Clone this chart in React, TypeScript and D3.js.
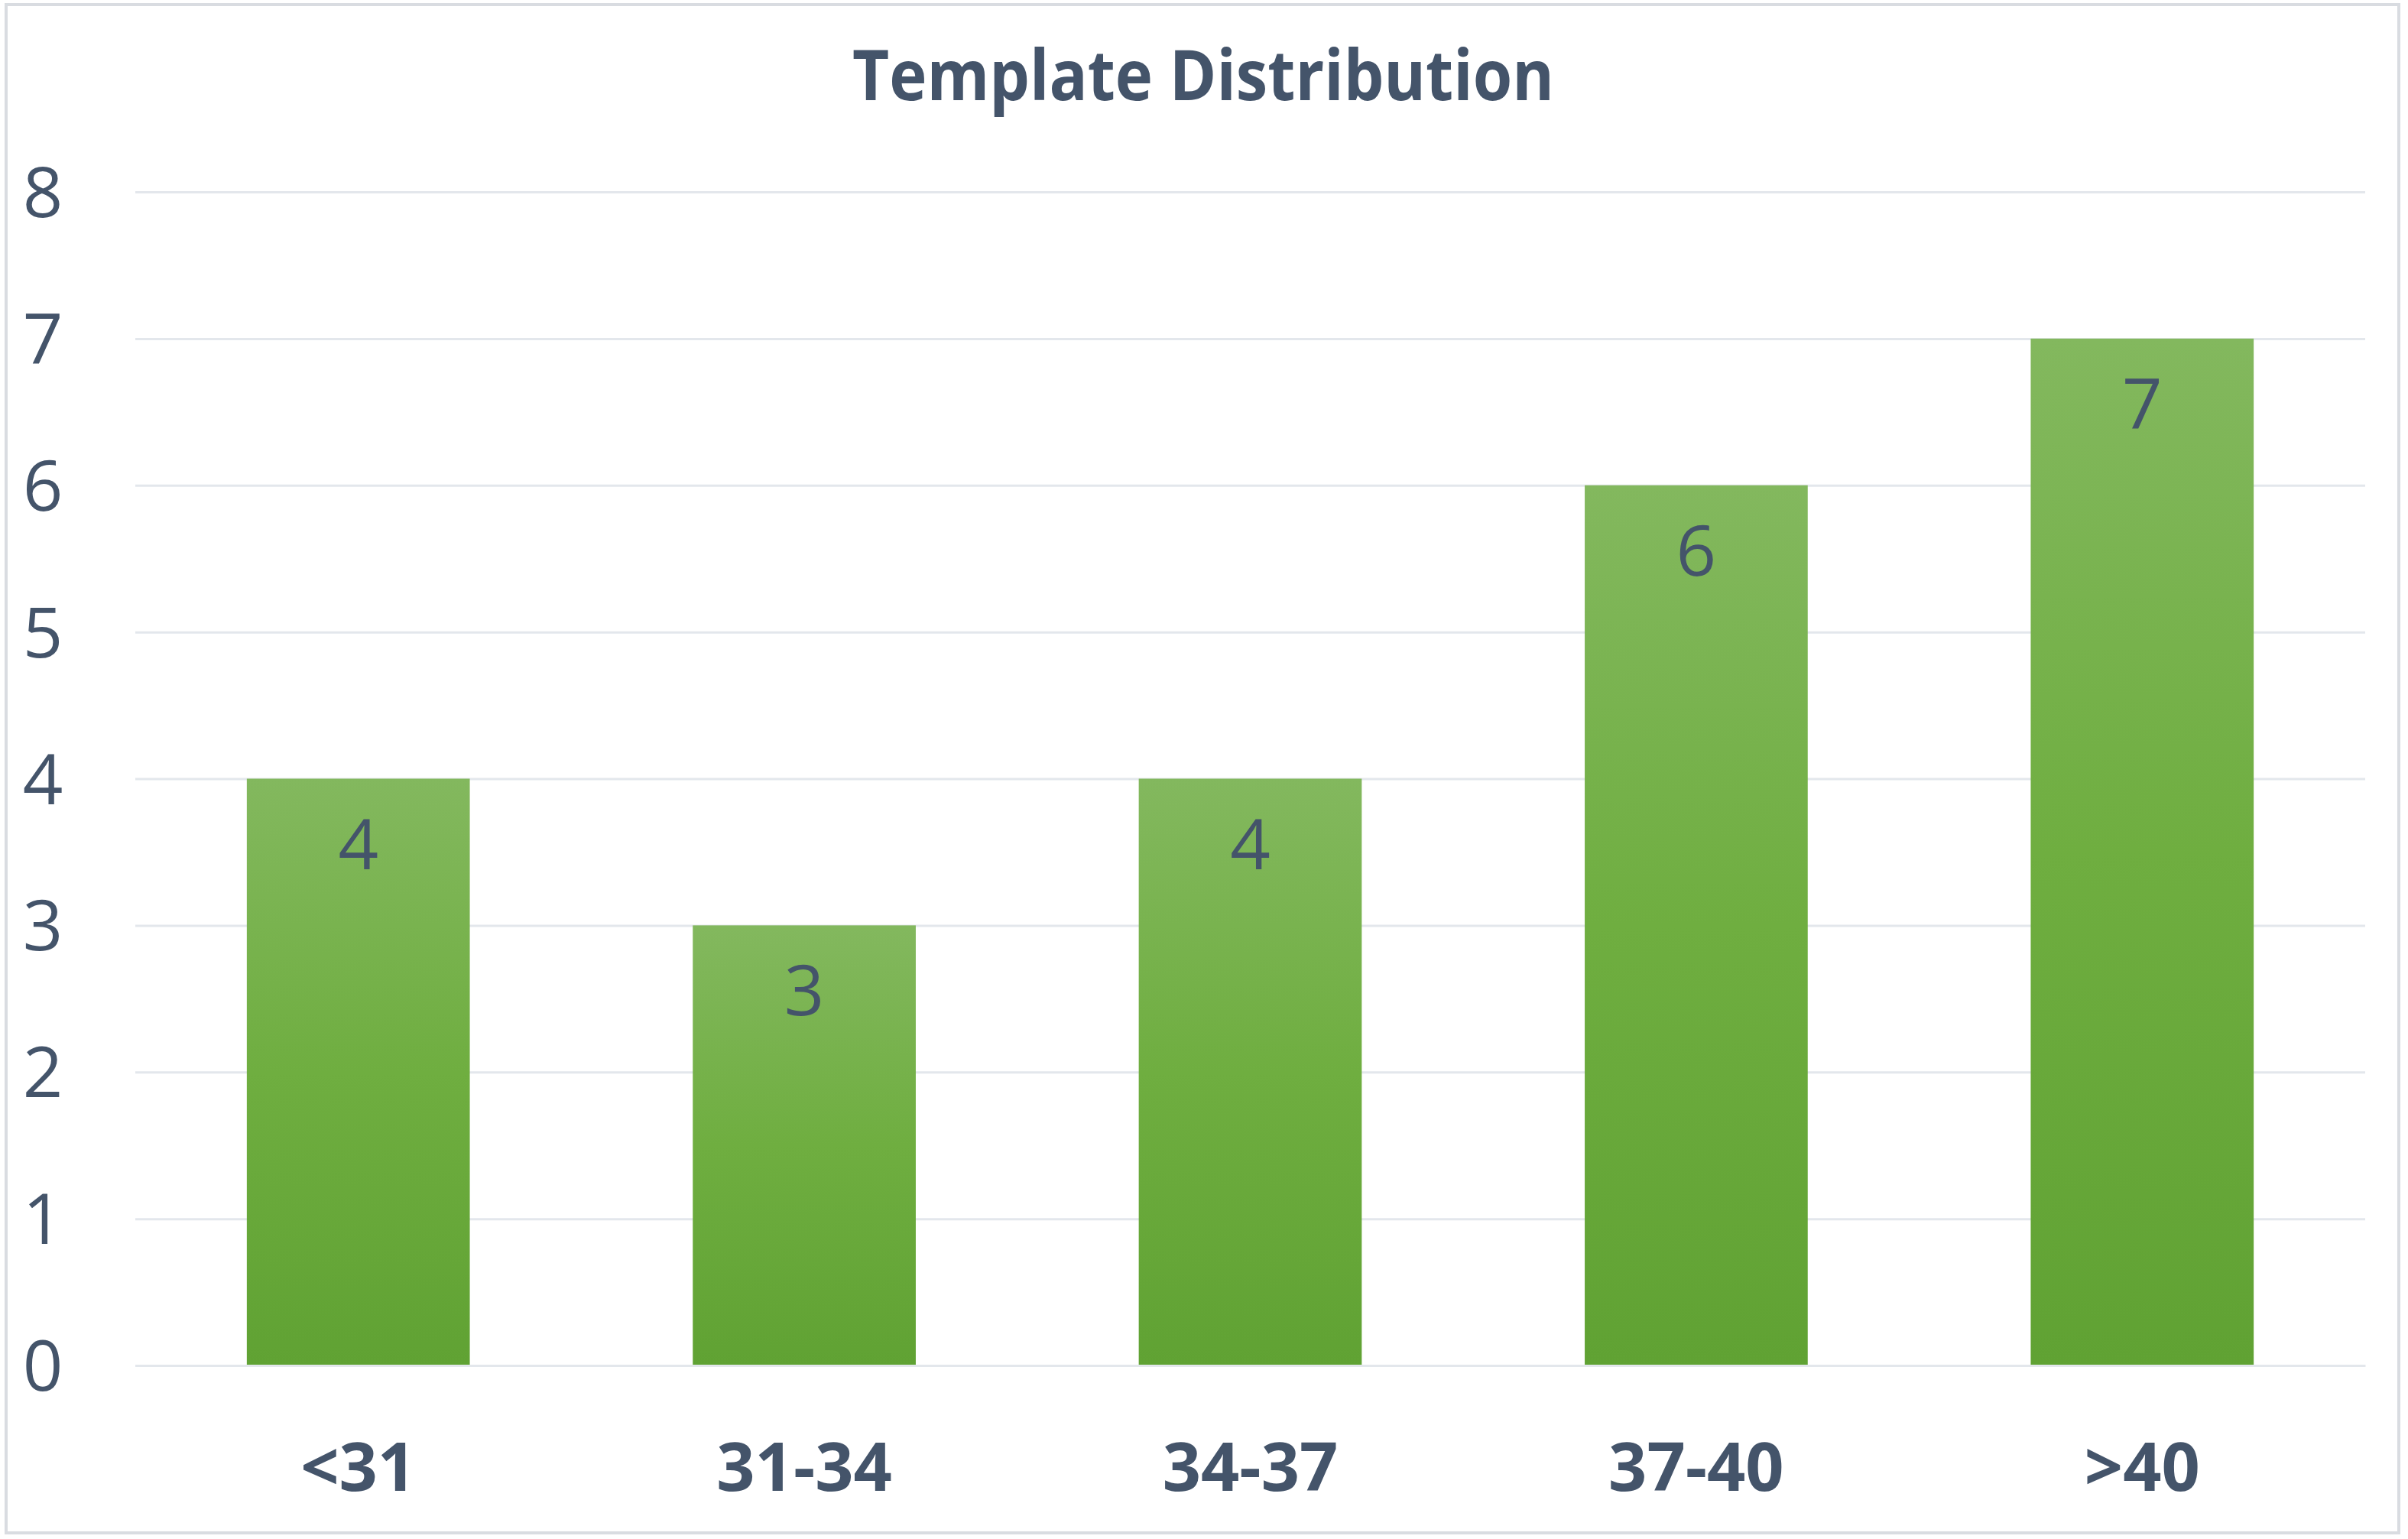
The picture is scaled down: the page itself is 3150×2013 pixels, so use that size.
import { useEffect, useRef } from "react";
import * as d3 from "d3";

const categories = ["<31", "31-34", "34-37", "37-40", ">40"];
const counts = [4, 3, 4, 6, 7];
const yTicks = [0, 1, 2, 3, 4, 5, 6, 7, 8];
const title = "Template Distribution";

const W = 3150;
const H = 2013;
const TEXT = "#44546a";

export default function App() {
  const ref = useRef<SVGSVGElement>(null);

  useEffect(() => {
    if (!ref.current) return;
    const root = d3.select(ref.current);
    root.selectAll("*").remove();

    const margin = { top: 251, right: 56, bottom: 227, left: 177 };
    const innerWidth = W - margin.left - margin.right;
    const innerHeight = H - margin.top - margin.bottom;

    const defs = root.append("defs");
    const grad = defs
      .append("linearGradient")
      .attr("id", "barFill")
      .attr("x1", 0)
      .attr("y1", 0)
      .attr("x2", 0)
      .attr("y2", 1);
    grad.append("stop").attr("offset", "0%").attr("stop-color", "#83b85e");
    grad.append("stop").attr("offset", "50%").attr("stop-color", "#6fae40");
    grad.append("stop").attr("offset", "100%").attr("stop-color", "#60a233");

    // chart frame
    root
      .append("rect")
      .attr("x", 8)
      .attr("y", 6)
      .attr("width", 3130)
      .attr("height", 1999)
      .attr("fill", "#ffffff")
      .attr("stroke", "#d9dce1")
      .attr("stroke-width", 4);

    root
      .append("text")
      .attr("x", 1574)
      .attr("y", 131)
      .attr("text-anchor", "middle")
      .attr("fill", TEXT)
      .attr("font-family", "'Open Sans', sans-serif")
      .attr("font-weight", 700)
      .attr("font-size", 92)
      .attr("textLength", 918)
      .attr("lengthAdjust", "spacingAndGlyphs")
      .text(title);

    const svg = root
      .append("g")
      .attr("transform", `translate(${margin.left},${margin.top})`);

    const x = d3
      .scaleBand()
      .domain(categories)
      .range([0, innerWidth])
      .paddingInner(0.5)
      .paddingOuter(0.25);

    const y = d3.scaleLinear().domain([0, 8]).range([innerHeight, 0]);

    // gridlines
    svg
      .append("g")
      .call(
        d3
          .axisLeft(y)
          .tickValues(yTicks)
          .tickSize(-innerWidth)
          .tickFormat(() => "")
      )
      .call((g) => g.select(".domain").remove())
      .call((g) =>
        g.selectAll("line").attr("stroke", "#e3e7ec").attr("stroke-width", 3)
      );

    // y labels
    svg
      .append("g")
      .selectAll("text")
      .data(yTicks)
      .enter()
      .append("text")
      .attr("x", 56 - margin.left)
      .attr("y", (d) => y(d))
      .attr("dy", "0.36em")
      .attr("text-anchor", "middle")
      .attr("fill", TEXT)
      .attr("font-family", "'Open Sans', sans-serif")
      .attr("font-size", 92)
      .text((d) => String(d));

    svg
      .selectAll("rect.bar")
      .data(counts)
      .enter()
      .append("rect")
      .attr("class", "bar")
      .attr("x", (_, i) => x(categories[i]) ?? 0)
      .attr("y", (d) => y(d))
      .attr("width", x.bandwidth())
      .attr("height", (d) => innerHeight - y(d))
      .attr("fill", "url(#barFill)");

    svg
      .selectAll("text.value")
      .data(counts)
      .enter()
      .append("text")
      .attr("class", "value")
      .attr("x", (_, i) => (x(categories[i]) ?? 0) + x.bandwidth() / 2)
      .attr("y", (d) => y(d) + 85)
      .attr("dy", "0.36em")
      .attr("text-anchor", "middle")
      .attr("fill", TEXT)
      .attr("font-family", "'Open Sans', sans-serif")
      .attr("font-size", 92)
      .text((d) => String(d));

    // x axis labels
    svg
      .append("g")
      .attr("transform", `translate(0,${innerHeight})`)
      .call(d3.axisBottom(x).tickSize(0).tickPadding(0))
      .call((g) =>
        g.select(".domain").attr("stroke", "#e3e7ec").attr("stroke-width", 3)
      )
      .call((g) =>
        g
          .selectAll("text")
          .attr("y", 132)
          .attr("dy", "0.36em")
          .attr("fill", TEXT)
          .attr("font-family", "'Open Sans', sans-serif")
          .attr("font-weight", 700)
          .attr("font-size", 88)
      );
  }, []);

  return (
    <svg
      ref={ref}
      width={W}
      height={H}
      style={{ position: "absolute", left: 0, top: 0, background: "#fff" }}
    />
  );
}
